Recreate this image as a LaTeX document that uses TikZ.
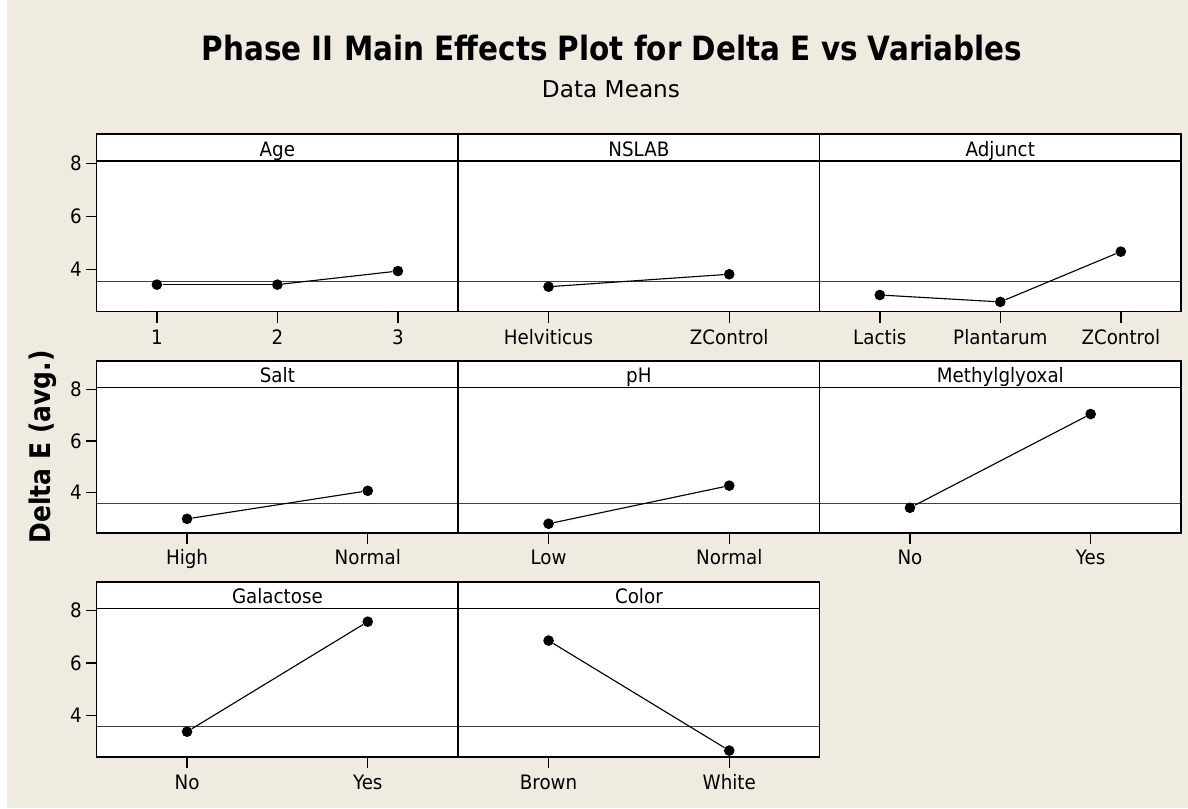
\documentclass[tikz,border=0pt]{standalone}
\usepackage{fontspec}
\setmainfont{DejaVu Sans}
\newfontfamily\headfont[FakeStretch=0.88]{DejaVu Sans}
\newfontfamily\labfont[FakeStretch=0.92]{DejaVu Sans}
\usetikzlibrary{positioning}
\definecolor{paper}{RGB}{239,235,225}
\tikzset{
 panel/.style={draw=black, line width=1.1pt},
 grand/.style={draw=black!75, line width=0.8pt},
 effect/.style={draw=black, line width=0.85pt},
 dot/.style={shape=circle, fill=black, inner sep=0pt, minimum size=8pt},
 lab/.style={font=\labfont\fontsize{14.9}{17}\selectfont, inner sep=0pt, anchor=base},
 ylab/.style={font=\labfont\fontsize{14.9}{17}\selectfont, inner sep=0pt, anchor=east},
 rowone/.style={yshift=-282.08pt, y=19.95pt},
 rowtwo/.style={yshift=-446.48pt, y=19.31pt},
 rowthree/.style={yshift=-615.5pt, y=19.69pt}
}
\begin{document}
\begin{tikzpicture}[x=0.75pt, y=-0.75pt]

\fill[paper] (0,0) rectangle (1188,808);
\fill[white] (0,0) rectangle (7,808);
\useasboundingbox (0,0) rectangle (1188,808);

\path (612,60.7) node[anchor=base, inner sep=0pt, font=\headfont\bfseries\fontsize{25.1}{28}\selectfont, name=title] {Phase II Main Effects Plot for Delta E vs Variables};
\path (611,97.3) node[anchor=base, inner sep=0pt, font=\fontsize{17.4}{20}\selectfont, name=subtitle] {Data Means};
\path (50,447) node[rotate=90, anchor=base, inner sep=0pt, font=\headfont\bfseries\fontsize{21.3}{24}\selectfont, name=ytitle] {Delta E (avg.)};

% first row: Age, NSLAB, Adjunct
\begin{scope}[rowone]
\fill[white] (96.7,2.42) rectangle (1181,9.1);
\draw[grand] (96.7,3.57) -- (1181,3.57);
\draw[panel] (96.7,2.42) rectangle (1181,9.1);
\draw[panel] (96.7,8.08) -- (1181,8.08);
\draw[panel] (458.2,2.42) -- (458.2,9.1);
\draw[panel] (819.6,2.42) -- (819.6,9.1);
\foreach \v in {4,6,8} {
  \draw[panel] (86,\v) -- (96.7,\v);
  \path (82,\v) node[ylab, name=ya\v] {\v};
}
\foreach \x in {156.9,277.4,397.9,548.55,729.25,879.8,1000.3,1120.8}
  \draw[panel] (\x,2.42) -- (\x,2.0);

\path (277.4,8.26) node[lab, name=hAge] {Age};
\path (156.9,1.2) node[lab, name=lAge1] {1};
\path (277.4,1.2) node[lab, name=lAge2] {2};
\path (397.9,1.2) node[lab, name=lAge3] {3};
\path (156.9,3.44) node[dot, name=age1] {};
\path (277.4,3.44) node[dot, name=age2] {};
\path (397.9,3.95) node[dot, name=age3] {};
\path (age1) edge[effect] (age2);
\path (age2) edge[effect] (age3);

\path (638.9,8.26) node[lab, name=hNslab] {NSLAB};
\path (548.55,1.2) node[lab, name=lHelv] {Helviticus};
\path (729.25,1.2) node[lab, name=lZcon] {ZControl};
\path (548.55,3.36) node[dot, name=helv] {};
\path (729.25,3.83) node[dot, name=zcon] {};
\path (helv) edge[effect] (zcon);

\path (1000.3,8.26) node[lab, name=hAdj] {Adjunct};
\path (879.8,1.2) node[lab, name=lLact] {Lactis};
\path (1000.3,1.2) node[lab, name=lPlan] {Plantarum};
\path (1120.8,1.2) node[lab, name=lAzcon] {ZControl};
\path (879.8,3.05) node[dot, name=lact] {};
\path (1000.3,2.79) node[dot, name=plan] {};
\path (1120.8,4.68) node[dot, name=azcon] {};
\path (lact) edge[effect] (plan);
\path (plan) edge[effect] (azcon);
\end{scope}

% second row: Salt, pH, Methylglyoxal
\begin{scope}[rowtwo]
\fill[white] (96.7,2.42) rectangle (1181,9.1);
\draw[grand] (96.7,3.57) -- (1181,3.57);
\draw[panel] (96.7,2.42) rectangle (1181,9.1);
\draw[panel] (96.7,8.08) -- (1181,8.08);
\draw[panel] (458.2,2.42) -- (458.2,9.1);
\draw[panel] (819.6,2.42) -- (819.6,9.1);
\foreach \v in {4,6,8} {
  \draw[panel] (86,\v) -- (96.7,\v);
  \path (82,\v) node[ylab, name=yb\v] {\v};
}
\foreach \x in {187.05,367.75,548.55,729.25,909.95,1090.65}
  \draw[panel] (\x,2.42) -- (\x,2.0);

\path (277.4,8.26) node[lab, name=hSalt] {Salt};
\path (187.05,1.2) node[lab, name=lHigh] {High};
\path (367.75,1.2) node[lab, name=lSnorm] {Normal};
\path (187.05,2.97) node[dot, name=high] {};
\path (367.75,4.06) node[dot, name=snorm] {};
\path (high) edge[effect] (snorm);

\path (638.9,8.26) node[lab, name=hPh] {pH};
\path (548.55,1.2) node[lab, name=lLow] {Low};
\path (729.25,1.2) node[lab, name=lPnorm] {Normal};
\path (548.55,2.78) node[dot, name=low] {};
\path (729.25,4.26) node[dot, name=pnorm] {};
\path (low) edge[effect] (pnorm);

\path (1000.3,8.26) node[lab, name=hMeth] {Methylglyoxal};
\path (909.95,1.2) node[lab, name=lMno] {No};
\path (1090.65,1.2) node[lab, name=lMyes] {Yes};
\path (909.95,3.40) node[dot, name=mno] {};
\path (1090.65,7.04) node[dot, name=myes] {};
\path (mno) edge[effect] (myes);
\end{scope}

% third row: Galactose, Color
\begin{scope}[rowthree]
\fill[white] (96.7,2.42) rectangle (819.6,9.1);
\draw[grand] (96.7,3.57) -- (819.6,3.57);
\draw[panel] (96.7,2.42) rectangle (819.6,9.1);
\draw[panel] (96.7,8.08) -- (819.6,8.08);
\draw[panel] (458.2,2.42) -- (458.2,9.1);
\foreach \v in {4,6,8} {
  \draw[panel] (86,\v) -- (96.7,\v);
  \path (82,\v) node[ylab, name=yc\v] {\v};
}
\foreach \x in {187.05,367.75,548.55,729.25}
  \draw[panel] (\x,2.42) -- (\x,2.0);

\path (277.4,8.26) node[lab, name=hGal] {Galactose};
\path (187.05,1.2) node[lab, name=lGno] {No};
\path (367.75,1.2) node[lab, name=lGyes] {Yes};
\path (187.05,3.39) node[dot, name=gno] {};
\path (367.75,7.58) node[dot, name=gyes] {};
\path (gno) edge[effect] (gyes);

\path (638.9,8.26) node[lab, name=hCol] {Color};
\path (548.55,1.2) node[lab, name=lBrown] {Brown};
\path (729.25,1.2) node[lab, name=lWhite] {White};
\path (548.55,6.86) node[dot, name=brown] {};
\path (729.25,2.67) node[dot, name=white] {};
\path (brown) edge[effect] (white);
\end{scope}

\end{tikzpicture}
\end{document}
